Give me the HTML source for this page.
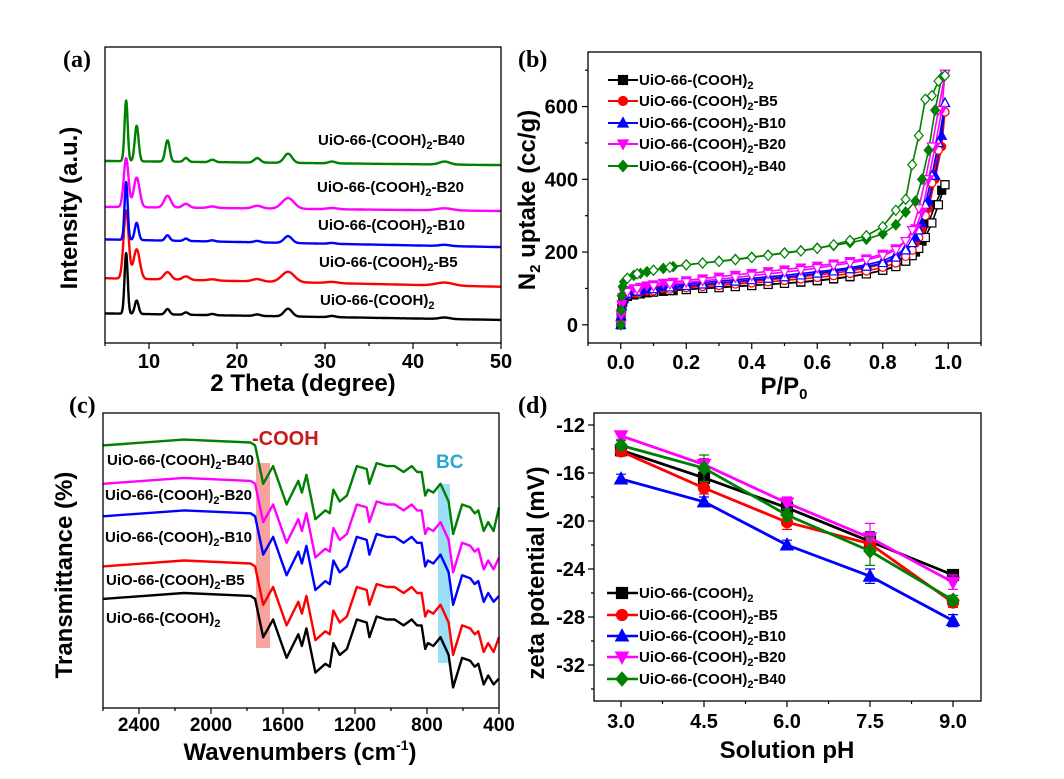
<!DOCTYPE html>
<html><head><meta charset="utf-8"><style>
html,body{margin:0;padding:0;background:#fff;}
svg{display:block;font-family:"Liberation Sans",Arial,sans-serif;font-weight:bold;}
</style></head><body>
<svg id="fig" width="1064" height="779" viewBox="0 0 1064 779" xmlns="http://www.w3.org/2000/svg">
<rect width="1064" height="779" fill="#fff"/>
</svg>
<script>
// ---------- Panel (a) XRD data ----------
const xrdSeries = ["UiO-66-(COOH)2","UiO-66-(COOH)2-B5","UiO-66-(COOH)2-B10","UiO-66-(COOH)2-B20","UiO-66-(COOH)2-B40"];
const xrdPeakPos = [7.4, 8.6, 12.1, 14.2, 17.2, 22.3, 25.8, 30.8, 43.6];
const xrdPeakWidth = [0.18, 0.22, 0.25, 0.25, 0.3, 0.35, 0.45, 0.4, 0.6];
const xrdHBlack = [20.5, 4.5, 1.8, 0.8, 0.4, 0.5, 2.6, 0.4, 0.5];
const xrdHRed = [23, 10, 2.5, 1.2, 0.4, 0.8, 3.5, 0.4, 1.0];
const xrdHBlue = [19.5, 5.8, 1.8, 0.8, 0.4, 0.5, 2.3, 0.3, 0.4];
const xrdHMag = [16.5, 10, 4.0, 1.3, 0.5, 0.9, 3.6, 0.4, 0.7];
const xrdHGreen = [20.5, 12, 7.2, 1.3, 0.8, 1.5, 3.1, 0.6, 1.0];
const xrdBaseStart = [10, 21.9, 35, 46, 61.5];
const xrdBaseEnd = [7.8, 19, 32.4, 44.6, 60.1];
const xrdWidthFactor = [1, 1.6, 1, 1.5, 1];
const xrdTicks = [10, 20, 30, 40, 50];

// ---------- Panel (b) isotherm data ----------
const isoP = [0,0.001,0.003,0.006,0.01,0.02,0.04,0.06,0.08,0.1,0.13,0.16,0.2,0.25,0.3,0.35,0.4,0.45,0.5,0.55,0.6,0.65,0.7,0.75,0.8,0.84,0.87,0.9,0.92,0.94,0.96,0.98,0.99];
const isoBlack = [0,20,45,62,72,78,82,85,88,90,92,94,97,100,103,106,108,111,114,117,121,126,132,140,150,162,175,200,230,280,330,370,385];
const isoRed = [0,22,48,66,76,82,87,90,93,96,99,102,105,109,113,117,120,124,128,132,137,142,148,156,167,182,200,225,265,320,400,490,585];
const isoBlue = [0,24,52,70,80,86,91,95,99,102,105,108,112,116,120,124,128,132,136,141,146,151,157,165,176,192,210,240,280,340,410,520,610];
const isoMag = [0,26,56,76,88,95,100,104,108,111,115,118,122,127,132,137,142,147,152,157,162,168,175,182,195,210,230,265,310,400,490,590,690];
const isoGreen = [0,40,80,105,118,128,136,141,146,150,155,160,165,170,175,180,186,192,198,204,211,218,226,235,250,275,310,340,400,480,590,680,685];
const desP = [0.99,0.97,0.95,0.93,0.91,0.89,0.87,0.84,0.8,0.75,0.7,0.65,0.6,0.55,0.5,0.45,0.4,0.35,0.3,0.25,0.2,0.15,0.1,0.05,0.02];
const desBlack = [385,330,280,240,210,190,175,160,150,140,133,127,122,118,114,111,108,105,102,100,97,94,90,85,80];
const desRed = [585,480,390,300,240,205,188,170,158,148,141,135,130,126,122,118,115,112,108,105,102,98,93,88,82];
const desBlue = [610,500,410,330,260,225,205,185,170,160,153,147,141,136,131,127,123,119,115,111,107,103,98,92,86];
const desMag = [690,590,490,400,320,260,230,205,190,178,170,163,156,150,145,140,135,130,125,121,117,112,106,98,90];
const desGreen = [685,670,630,620,520,440,345,315,270,245,232,220,210,203,197,191,185,179,174,170,165,158,150,140,128];
const isoXTicks = [0, 0.2, 0.4, 0.6, 0.8, 1.0];
const isoYTicks = [0, 200, 400, 600];

// ---------- Panel (c) FTIR data ----------
const wn = [2600,2150,1780,1755,1710,1655,1580,1515,1495,1470,1420,1365,1340,1320,1285,1245,1190,1135,1120,1080,1025,980,930,885,855,830,810,795,765,725,680,655,605,560,535,515,485,460,430,400];
const ftBlack = [37,39,38,37,24,30,17,25,21,27,12,15,14,22,18,20,30,29,24,31,30,30,28,30,28,28,20,22,21,24,18,7,17,16,14,15,8,11,8,10];
const ftRed = [48,50,49,48,35,41,28,36,32,38,23,26,25,33,29,31,41,40,35,42,41,41,39,41,39,39,31,33,32,35,29,18,28,27,25,26,19,22,19,24];
const ftBlue = [65,67,66,65,52,58,45,53,49,55,40,43,42,50,46,48,58,57,52,59,58,58,56,58,56,56,48,50,49,52,46,35,45,44,42,43,36,39,36,38];
const ftMag = [76,78,77,76,63,69,56,64,60,66,51,54,53,61,57,59,69,68,63,70,69,69,67,69,67,67,59,61,60,63,57,46,56,55,53,54,47,50,47,51];
const ftGreen = [89,91,90,89,76,82,69,77,73,79,64,67,66,74,70,72,82,81,76,83,82,82,80,82,80,80,72,74,73,76,70,59,69,68,66,67,60,63,60,68];
const ftTicks = [2400, 2000, 1600, 1200, 800, 400];

// ---------- Panel (d) zeta data ----------
const pH = [3.0, 4.5, 6.0, 7.5, 9.0];
const zBlack = [-14.1, -16.4, -18.9, -21.7, -24.5];
const zRed = [-14.2, -17.25, -20.1, -21.9, -26.8];
const zBlue = [-16.5, -18.4, -22.0, -24.6, -28.3];
const zMag = [-12.9, -15.3, -18.5, -21.4, -25.1];
const zGreen = [-13.7, -15.6, -19.5, -22.5, -26.6];
const eBlack = [0.4, 0.6, 0.5, 0.8, 0.3];
const eRed = [0.4, 0.5, 0.6, 0.5, 0.4];
const eBlue = [0.4, 0.4, 0.4, 0.6, 0.5];
const eMag = [0.3, 0.5, 0.5, 1.2, 0.6];
const eGreen = [0.4, 1.1, 0.5, 1.2, 0.4];
const zXTicks = [3.0, 4.5, 6.0, 7.5, 9.0];
const zYTicks = [-12, -16, -20, -24, -28, -32];

const colors = ["#000000","#ff0000","#0000ff","#ff00ff","#008000"];
const NS = "http://www.w3.org/2000/svg";
const svg = document.getElementById("fig");
function el(tag, attrs, parent){
  const e = document.createElementNS(NS, tag);
  for (const k in attrs) e.setAttribute(k, attrs[k]);
  (parent||svg).appendChild(e);
  return e;
}
function lin(d0,d1,r0,r1){ return v => r0 + (v-d0)/(d1-d0)*(r1-r0); }
function pathD(xs, ys){ return xs.map((x,i)=>(i?"L":"M")+x.toFixed(1)+","+ys[i].toFixed(1)).join(""); }
function labelText(g, x, y, name, size, anchor){
  const t = el("text",{x:x,y:y,"font-size":size,"text-anchor":anchor||"start"},g);
  const idx = name.indexOf(")2");
  const a = document.createElementNS(NS,"tspan"); a.textContent = name.slice(0, idx+1); t.appendChild(a);
  const s = document.createElementNS(NS,"tspan"); s.setAttribute("font-size", Math.round(size*0.7)); s.setAttribute("dy", 4); s.textContent = "2"; t.appendChild(s);
  const rest = name.slice(idx+2);
  if (rest){ const r = document.createElementNS(NS,"tspan"); r.setAttribute("dy",-4); r.textContent = rest; t.appendChild(r); }
  return t;
}
function frame(g, x0,y0,x1,y1){
  el("rect",{x:x0,y:y0,width:x1-x0,height:y1-y0,fill:"none",stroke:"#000","stroke-width":1.3},g);
}
function marker(g, type, x, y, color, open, size){
  const s = size||4;
  const fill = open ? "#fff" : color;
  let m;
  if (type===0) m = el("rect",{x:x-s,y:y-s,width:2*s,height:2*s},g);
  else if (type===1) m = el("circle",{cx:x,cy:y,r:s},g);
  else if (type===2) m = el("polygon",{points:`${x},${y-s*1.2} ${x-s*1.15},${y+s*0.9} ${x+s*1.15},${y+s*0.9}`},g);
  else if (type===3) m = el("polygon",{points:`${x},${y+s*1.2} ${x-s*1.15},${y-s*0.9} ${x+s*1.15},${y-s*0.9}`},g);
  else m = el("polygon",{points:`${x},${y-s*1.25} ${x+s*1.1},${y} ${x},${y+s*1.25} ${x-s*1.1},${y}`},g);
  m.setAttribute("fill", fill); m.setAttribute("stroke", color); m.setAttribute("stroke-width", 1.2);
  return m;
}
function panelLabel(txt, x, y){
  const t = el("text",{x:x,y:y,"font-size":24,"font-family":"Liberation Serif, serif","font-weight":"bold"});
  t.textContent = txt;
  
  
}

// ================= Panel (a) =================
(function(){
  const g = el("g",{});
  
  
  const X = lin(5,50,105,501), Y = lin(0,100,343,47);
  const heights = [xrdHBlack, xrdHRed, xrdHBlue, xrdHMag, xrdHGreen];
  for (let s=0;s<5;s++){
    const xs=[], ys=[];
    for (let t=5; t<=50.0001; t+=0.04){
      let v = xrdBaseStart[s] + (xrdBaseEnd[s]-xrdBaseStart[s])*(t-5)/45;
      for (let k=0;k<xrdPeakPos.length;k++){
        const w = xrdPeakWidth[k]*xrdWidthFactor[s];
        v += heights[s][k]*Math.exp(-0.5*Math.pow((t-xrdPeakPos[k])/w,2));
      }
      xs.push(X(t)); ys.push(Y(v));
    }
    const p = el("path",{d:pathD(xs,ys),fill:"none",stroke:colors[s],"stroke-width":2.4,"stroke-linejoin":"round"},g);
    
    
  }
  frame(g,105,47,501,343);
  for (let v=5; v<=50; v+=5){
    el("line",{x1:X(v),x2:X(v),y1:343,y2:(v%10===0)?349:346,stroke:"#000","stroke-width":1.2},g);
  }
  xrdTicks.forEach(v=>{
    const t = el("text",{x:X(v),y:368,"font-size":20,"text-anchor":"middle"},g); t.textContent = v;
    
    
  });
  const xt = el("text",{x:303,y:391,"font-size":24,"text-anchor":"middle"},g); xt.textContent = "2 Theta (degree)";
  
  
  const yt = el("text",{x:0,y:0,"font-size":24,"text-anchor":"middle",transform:"translate(77,208) rotate(-90)"},g); yt.textContent = "Intensity (a.u.)";
  
  
  const ly = [305, 267, 230, 192, 145];
  const lx = [320, 319, 318, 317, 318];
  for (let s=0;s<5;s++){
    const t = labelText(g, lx[s], ly[s], xrdSeries[s], 15);
    
    
  }
})();
panelLabel("(a)", 63, 67);

// ================= Panel (b) =================
(function(){
  const g = el("g",{});
  
  
  const X = lin(-0.1,1.1,588,981), Y = lin(-50,750,343,52);
  const ads = [isoBlack, isoRed, isoBlue, isoMag, isoGreen];
  const des = [desBlack, desRed, desBlue, desMag, desGreen];
  for (let s=0;s<5;s++){
    const l1 = el("path",{d:pathD(isoP.map(X), ads[s].map(Y)),fill:"none",stroke:colors[s],"stroke-width":1.6},g);
    
    
    const l2 = el("path",{d:pathD(desP.map(X), des[s].map(Y)),fill:"none",stroke:colors[s],"stroke-width":1.6},g);
    
    
  }
  for (let s=0;s<5;s++){
    isoP.forEach((p,i)=>{
      const m = marker(g, s, X(p), Y(ads[s][i]), colors[s], false, 4);
      
      
    });
    desP.forEach((p,i)=>{
      const m = marker(g, s, X(p), Y(des[s][i]), colors[s], true, 4);
      
      
    });
  }
  frame(g,588,52,981,343);
  for (let k=-1;k<=11;k++){
    const v=k/10;
    el("line",{x1:X(v),x2:X(v),y1:343,y2:(k%2===0)?349:346,stroke:"#000","stroke-width":1.2},g);
  }
  for (let v=0; v<=700; v+=100){
    el("line",{x1:588,x2:(v%200===0)?582:585,y1:Y(v),y2:Y(v),stroke:"#000","stroke-width":1.2},g);
  }
  isoXTicks.forEach(v=>{
    const t = el("text",{x:X(v),y:369,"font-size":20,"text-anchor":"middle"},g); t.textContent = v.toFixed(1);
    
    
  });
  isoYTicks.forEach(v=>{
    const t = el("text",{x:578,y:Y(v)+7,"font-size":20,"text-anchor":"end"},g); t.textContent = v;
    
    
  });
  const xt = el("text",{x:784,y:394,"font-size":24,"text-anchor":"middle"},g);
  xt.innerHTML = 'P/P<tspan font-size="15" dy="5">0</tspan>';
  
  
  const yt = el("text",{x:0,y:0,"font-size":24,"text-anchor":"middle",transform:"translate(535,200) rotate(-90)"},g);
  yt.innerHTML = 'N<tspan font-size="15" dy="5">2</tspan><tspan dy="-5"> uptake (cc/g)</tspan>';
  
  
  const legY = [80, 101, 123, 144, 166];
  for (let s=0;s<5;s++){
    const lg = el("g",{},g);
    
    
    el("line",{x1:608,x2:638,y1:legY[s],y2:legY[s],stroke:colors[s],"stroke-width":2},lg);
    marker(lg, s, 623, legY[s], colors[s], false, 4.5);
    labelText(lg, 639, legY[s]+5, xrdSeries[s], 15);
  }
})();
panelLabel("(b)", 518, 67);

// ================= Panel (c) =================
(function(){
  const g = el("g",{});
  
  
  const X = lin(2600,400,103,499), Y = lin(0,100,708,413);
  const hl1 = el("rect",{x:256,y:463,width:14,height:185,fill:"rgba(240,90,80,0.55)"},g);
  
  
  const hl2 = el("rect",{x:438,y:484,width:12,height:179,fill:"rgba(90,200,240,0.6)"},g);
  
  
  const series = [ftBlack, ftRed, ftBlue, ftMag, ftGreen];
  for (let s=0;s<5;s++){
    const p = el("path",{d:pathD(wn.map(X), series[s].map(Y)),fill:"none",stroke:colors[s],"stroke-width":2.4,"stroke-linejoin":"round"},g);
    
    
  }
  frame(g,103,413,499,708);
  for (let v=400; v<=2600; v+=200){
    el("line",{x1:X(v),x2:X(v),y1:708,y2:(v%400===0)?714:711,stroke:"#000","stroke-width":1.2},g);
  }
  ftTicks.forEach(v=>{
    const t = el("text",{x:X(v),y:731,"font-size":19,"text-anchor":"middle"},g); t.textContent = v;
    
    
  });
  const xt = el("text",{x:300,y:760,"font-size":24,"text-anchor":"middle"},g);
  xt.innerHTML = 'Wavenumbers (cm<tspan font-size="14" dy="-10">-1</tspan><tspan dy="10">)</tspan>';
  
  
  const yt = el("text",{x:0,y:0,"font-size":24,"text-anchor":"middle",transform:"translate(72,575) rotate(-90)"},g); yt.textContent = "Transmittance (%)";
  
  
  const c1 = el("text",{x:252,y:445,"font-size":20,fill:"#cc1a1a"},g); c1.textContent = "-COOH";
  
  
  const c2 = el("text",{x:436,y:468,"font-size":19,fill:"#2aa5d8"},g); c2.textContent = "BC";
  
  
  const ly = [623, 585, 542, 500, 465];
  const lx = [106, 106, 105, 105, 107];
  for (let s=0;s<5;s++){
    const t = labelText(g, lx[s], ly[s], xrdSeries[s], 15);
    
    
  }
})();
panelLabel("(c)", 69, 413);

// ================= Panel (d) =================
(function(){
  const g = el("g",{});
  
  
  const X = lin(3,9,621,953), Y = lin(-11,-35,413,701);
  const vals = [zBlack, zRed, zBlue, zMag, zGreen];
  const errs = [eBlack, eRed, eBlue, eMag, eGreen];
  for (let s=0;s<5;s++){
    const p = el("path",{d:pathD(pH.map(X), vals[s].map(Y)),fill:"none",stroke:colors[s],"stroke-width":2.8},g);
    
    
    pH.forEach((x,i)=>{
      const cx = X(x), y1 = Y(vals[s][i]+errs[s][i]), y2 = Y(vals[s][i]-errs[s][i]);
      const eb = el("path",{d:`M${cx},${y1}L${cx},${y2}M${cx-5},${y1}L${cx+5},${y1}M${cx-5},${y2}L${cx+5},${y2}`,stroke:colors[s],"stroke-width":1.2,fill:"none"},g);
      
      
      const m = marker(g, s, cx, Y(vals[s][i]), colors[s], false, 5.5);
      
      
    });
  }
  frame(g,594,413,981,701);
  for (let v=3; v<=9.0001; v+=0.75){
    const major = Math.abs((v-3)/1.5 - Math.round((v-3)/1.5))<1e-6;
    el("line",{x1:X(v),x2:X(v),y1:701,y2:major?707:704,stroke:"#000","stroke-width":1.2},g);
  }
  for (let v=-12; v>=-34; v-=2){
    el("line",{x1:594,x2:(v%4===0)?588:591,y1:Y(v),y2:Y(v),stroke:"#000","stroke-width":1.2},g);
  }
  zXTicks.forEach(v=>{
    const t = el("text",{x:X(v),y:728,"font-size":20,"text-anchor":"middle"},g); t.textContent = v.toFixed(1);
    
    
  });
  zYTicks.forEach(v=>{
    const t = el("text",{x:585,y:Y(v)+7,"font-size":20,"text-anchor":"end"},g); t.textContent = v;
    
    
  });
  const xt = el("text",{x:787,y:758,"font-size":24,"text-anchor":"middle"},g); xt.textContent = "Solution pH";
  
  
  const yt = el("text",{x:0,y:0,"font-size":24,"text-anchor":"middle",transform:"translate(544,573) rotate(-90)"},g); yt.textContent = "zeta potential (mV)";
  
  
  const legY = [593, 615, 636, 657, 679];
  for (let s=0;s<5;s++){
    const lg = el("g",{},g);
    
    
    el("line",{x1:607,x2:638,y1:legY[s],y2:legY[s],stroke:colors[s],"stroke-width":2.6},lg);
    marker(lg, s, 622, legY[s], colors[s], false, 5.5);
    labelText(lg, 639, legY[s]+5, xrdSeries[s], 15);
  }
})();
panelLabel("(d)", 518, 413);
</script>
</body></html>
